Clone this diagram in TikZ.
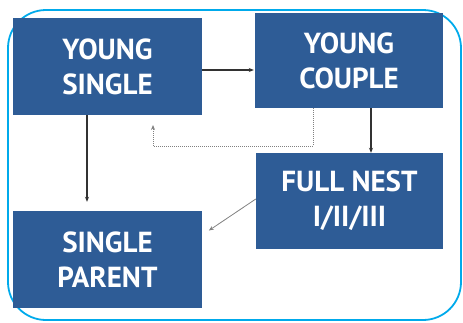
\documentclass[tikz,border=0pt]{standalone}
\usepackage{fontspec}
\setmainfont{PT Sans}
\usetikzlibrary{arrows.meta}
\definecolor{boxblue}{RGB}{46,92,150}
\definecolor{framecyan}{RGB}{0,170,235}
\definecolor{lineg}{RGB}{50,50,50}
\begin{document}
\begin{tikzpicture}[x=1pt,y=-1pt,
  stage/.style={fill=boxblue, draw=none, text=white, align=center,
    inner sep=0pt, font=\fontsize{29}{35}\selectfont\bfseries},
  arr/.style={draw=lineg, line width=1.1pt, -{Stealth[length=5pt,width=4pt]}},
  dotarr/.style={draw=gray, line width=0.9pt, dash pattern=on 1pt off 1pt, -{Stealth[length=5pt,width=4pt]}},
  thinarr/.style={draw=gray, line width=0.8pt, -{Stealth[length=5pt,width=4pt]}}]
\useasboundingbox (0,0) rectangle (463,322);
\draw[framecyan, line width=1.8pt, rounded corners=38pt] (8,10) rectangle (461,320);
\node[stage, minimum width=189pt, minimum height=97pt] (ys) at (107.5,66.5) {YOUNG\\SINGLE};
\node[stage, minimum width=188pt, minimum height=95pt] (yc) at (349,60.5) {YOUNG\\COUPLE};
\node[stage, minimum width=187pt, minimum height=96pt] (fn) at (349.5,201) {FULL NEST\\I/II/III};
\node[stage, minimum width=189pt, minimum height=97pt] (sp) at (107.5,259.5) {SINGLE\\PARENT};
\coordinate (fb) at (153,125);
\draw[arr] (ys.east |- 0,70) -- ([xshift=-1pt]yc.west |- 0,70);
\draw[arr, shorten >=9pt] (ys.south -| 87,0) -- (sp.north -| 87,0);
\draw[arr] (yc.south -| 371,0) -- (fn.north -| 371,0);
\draw[thinarr, shorten >=8pt] (fn.west |- 0,199) -- (sp.east |- 0,235);
\draw[dotarr] (yc.south -| 313,0) |- (fb |- 0,146) -- (fb);
\end{tikzpicture}
\end{document}
